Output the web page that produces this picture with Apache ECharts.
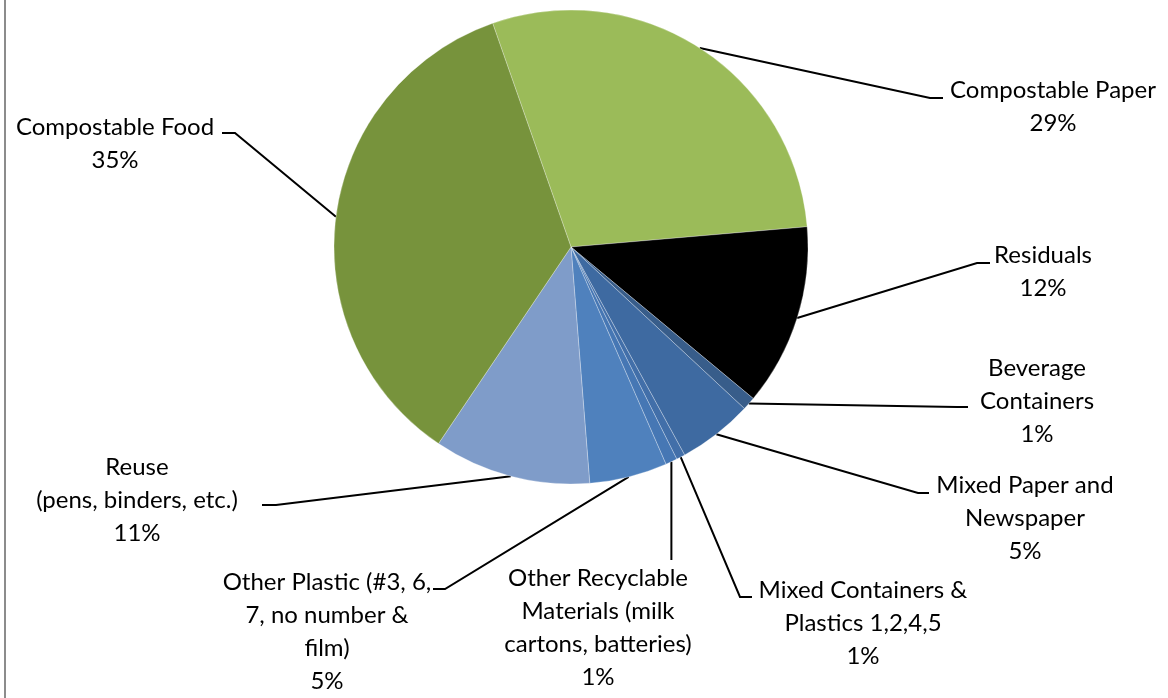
<!DOCTYPE html>
<html>
<head>
<meta charset="utf-8">
<script src="https://cdn.jsdelivr.net/npm/echarts@6/dist/echarts.min.js"></script>
<style>
html,body{margin:0;padding:0;background:#fff;}
#chart{width:1168px;height:698px;}
</style>
</head>
<body>
<div id="chart"></div>
<script>
// ---- data ----
const categories = [
  'Compostable Paper',
  'Residuals',
  'Beverage Containers',
  'Mixed Paper and Newspaper',
  'Mixed Containers & Plastics 1,2,4,5',
  'Other Recyclable Materials (milk cartons, batteries)',
  'Other Plastic (#3, 6, 7, no number & film)',
  'Reuse (pens, binders, etc.)',
  'Compostable Food'
];
const values = [29.0, 12.4, 0.9, 5.1, 0.6, 0.8, 5.3, 10.7, 35.2];
// wrapped label text as shown in the chart
const labelText = [
  'Compostable Paper',
  'Residuals',
  'Beverage\nContainers',
  'Mixed Paper and\nNewspaper',
  'Mixed Containers &\nPlastics 1,2,4,5',
  'Other Recyclable\nMaterials (milk\ncartons, batteries)',
  'Other Plastic (#3, 6,\n7, no number &\nfilm)',
  'Reuse\n(pens, binders, etc.)',
  'Compostable Food'
];
const colors = ['#9BBB59', '#000000', '#385D8A', '#3E6AA1', '#426FA9', '#4677B4', '#4F81BD', '#7F9CC9', '#77933C'];

// ---- label layout (center x, first-line center y, leader bend point, leader end point) ----
const LINE_H = 33;
const labelPos = [
  {cx: 1053, y1: 90,  bend: [930, 98],  end: [943, 98]},
  {cx: 1043, y1: 255, bend: [977, 263], end: [990, 263]},
  {cx: 1037, y1: 368, bend: [957, 407], end: [968, 407]},
  {cx: 1025, y1: 485, bend: [918, 493], end: [929, 493]},
  {cx: 863,  y1: 590, bend: [740, 597], end: [752, 597]},
  {cx: 598,  y1: 578, vertical: true, endY: 560},
  {cx: 327,  y1: 582, bend: [445, 589], end: [433, 589]},
  {cx: 137,  y1: 467, bend: [276, 505], end: [262, 505]},
  {cx: 115,  y1: 127, bend: [235, 133], end: [222, 133]}
];

const chart = echarts.init(document.getElementById('chart'));
const option = {
  backgroundColor: '#ffffff',
  animation: false,
  graphic: [{
    type: 'line',
    shape: {x1: 5, y1: 0, x2: 5, y2: 698},
    style: {stroke: '#8c8c8c', lineWidth: 2}
  }],
  series: [{
    type: 'pie',
    center: [571, 247],
    radius: 237,
    startAngle: 109.3,
    clockwise: true,
    avoidLabelOverlap: false,
    itemStyle: {borderColor: 'rgba(255,255,255,0.35)', borderWidth: 0.8},
    label: {
      show: true,
      position: 'outside',
      fontFamily: 'Lato, "Open Sans", sans-serif',
      fontSize: 24,
      lineHeight: LINE_H,
      color: '#000',
      align: 'center',
      formatter: function (p) {
        return labelText[p.dataIndex] + '\n' + Math.round(p.value) + '%';
      }
    },
    labelLine: {show: true, length: 10, length2: 10, smooth: false,
      lineStyle: {color: '#000', width: 2}},
    emphasis: {disabled: true},
    labelLayout: function (params) {
      const lp = labelPos[params.dataIndex];
      const p0 = params.labelLinePoints ? params.labelLinePoints[0] : [lp.cx, lp.y1];
      let pts;
      if (lp.vertical) {
        pts = [p0, [p0[0], (p0[1] + lp.endY) / 2], [p0[0], lp.endY]];
      } else {
        pts = [p0, lp.bend, lp.end];
      }
      return {
        x: lp.cx,
        y: lp.y1 - LINE_H / 2,
        align: 'center',
        verticalAlign: 'top',
        labelLinePoints: pts
      };
    },
    data: categories.map(function (c, i) {
      return {name: c, value: values[i], itemStyle: {color: colors[i]}};
    })
  }]
};
chart.setOption(option);
</script>
</body>
</html>
